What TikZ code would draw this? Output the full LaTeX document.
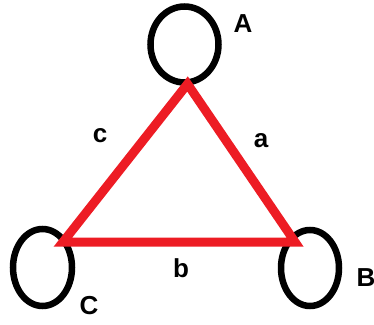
\documentclass[tikz,border=0pt]{standalone}
\usepackage{fontspec}
\setmainfont{Liberation Sans}
\usetikzlibrary{shapes.geometric}
\definecolor{paintred}{RGB}{237,28,36}
\begin{document}
\begin{tikzpicture}[x=1pt,y=-1pt,
  ring/.style={draw=black,line width=6.5pt,ellipse,inner sep=0pt},
  edge/.style={draw=paintred,line width=9pt,line join=miter},
  lab/.style={font=\fontsize{26}{26}\selectfont\bfseries,inner sep=0pt}]
\useasboundingbox (0,0) rectangle (374,324);
\node[ring,minimum width=68pt,minimum height=76pt] (A) at (184.5,44.5) {};
\node[ring,minimum width=59pt,minimum height=77pt] (C) at (42.5,267.5) {};
\node[ring,minimum width=58pt,minimum height=76pt] (B) at (310,268) {};
\coordinate (vA) at (187.5,84);
\coordinate (vC) at (63,242);
\coordinate (vB) at (295,242);
\draw[edge] (vA) -- (vB) -- (vC) -- cycle;
\node[lab] (lA) at (243,24) {A};
\node[lab] (lB) at (366,278) {B};
\node[lab] (lC) at (89,306) {C};
\node[lab] (la) at (261,141) {a};
\node[lab] (lb) at (181,268) {b};
\node[lab] (lc) at (100,136) {c};
\end{tikzpicture}
\end{document}
